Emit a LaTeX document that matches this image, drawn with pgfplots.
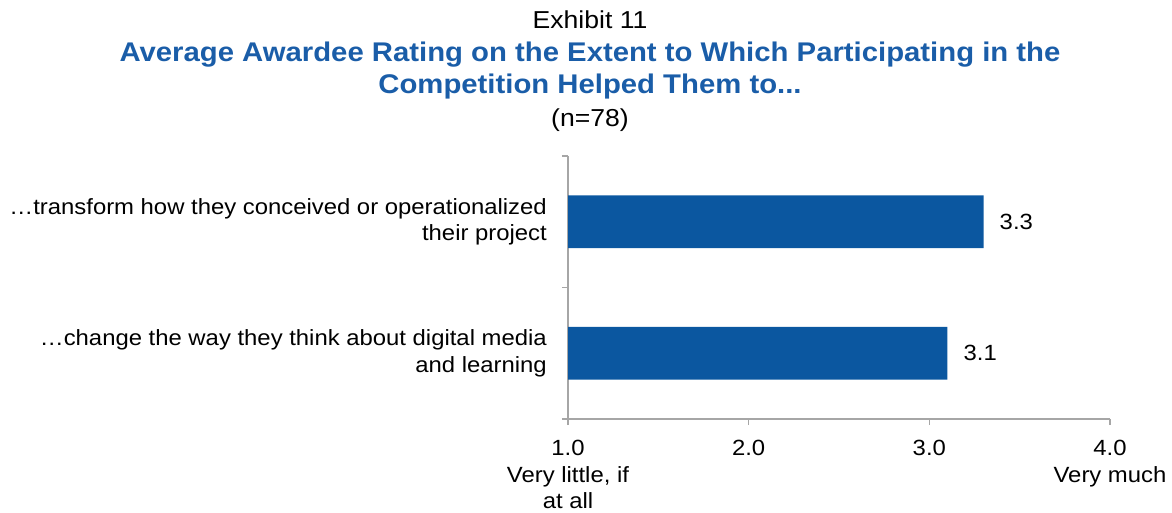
\documentclass[border=0pt]{standalone}
\usepackage{fontspec}
\setmainfont{Liberation Sans}[FakeStretch=1.085]
\usepackage{pgfplots}
\pgfplotsset{compat=1.18}
\definecolor{barblue}{HTML}{0B57A0}
\definecolor{titleblue}{HTML}{1A5DA8}
\definecolor{axisgray}{HTML}{A6A6A6}
\newcommand{\lbl}{\fontsize{22}{26.5}\selectfont}

\begin{document}
\begin{tikzpicture}
\useasboundingbox (0,0) rectangle (1172pt,512pt);

\node[anchor=base, font=\fontsize{24.5}{29}\selectfont] at (590pt,483pt) {Exhibit 11};
\node[anchor=base, font=\bfseries\fontsize{27}{32}\selectfont, text=titleblue] at (590pt,450pt)
  {Average Awardee Rating on the Extent to Which Participating in the};
\node[anchor=base, font=\bfseries\fontsize{27}{32}\selectfont, text=titleblue] at (590pt,418pt)
  {Competition Helped Them to...};
\node[anchor=base, font=\fontsize{24.5}{29}\selectfont] at (590pt,385pt) {(n=78)};

\begin{axis}[
  at={(568pt,93pt)}, anchor=south west,
  scale only axis, width=542pt, height=263pt,
  xmin=1, xmax=4, ymin=-0.5, ymax=1.5,
  xbar, bar width=0.4, bar shift=0pt,
  axis lines*=left,
  axis line style={-, axisgray, line width=1.2pt},
  tick align=outside,
  major tick length=6pt,
  tick style={axisgray, line width=1.2pt},
  xtick={1,2,3,4},
  xticklabels={{1.0\\Very little, if\\at all}, 2.0, 3.0, {4.0\\Very much}},
  xticklabel style={align=center, font=\fontsize{22}{26.5}\selectfont, inner sep=0pt, yshift=-15pt},
  ytick={-0.5,0.5,1.5},
  yticklabels={,,},
  extra y ticks={0,1},
  extra y tick labels={{…change the way they think about digital media\\and learning},
    {…transform how they conceived or operationalized\\their project}},
  extra y tick style={major tick length=0pt,
    yticklabel style={align=right, font=\lbl, inner sep=0pt, xshift=-21pt}},
  point meta=x,
  /pgf/number format/assume math mode=true,
  nodes near coords={\pgfmathprintnumber[fixed,fixed zerofill,precision=1]{\pgfplotspointmeta}},
  every node near coord/.append style={anchor=west, inner sep=0pt, xshift=16pt, font=\lbl, text=black},
]
\addplot[fill=barblue, draw=none] coordinates {(3.1,0) (3.3,1)};
\end{axis}
\end{tikzpicture}
\end{document}
